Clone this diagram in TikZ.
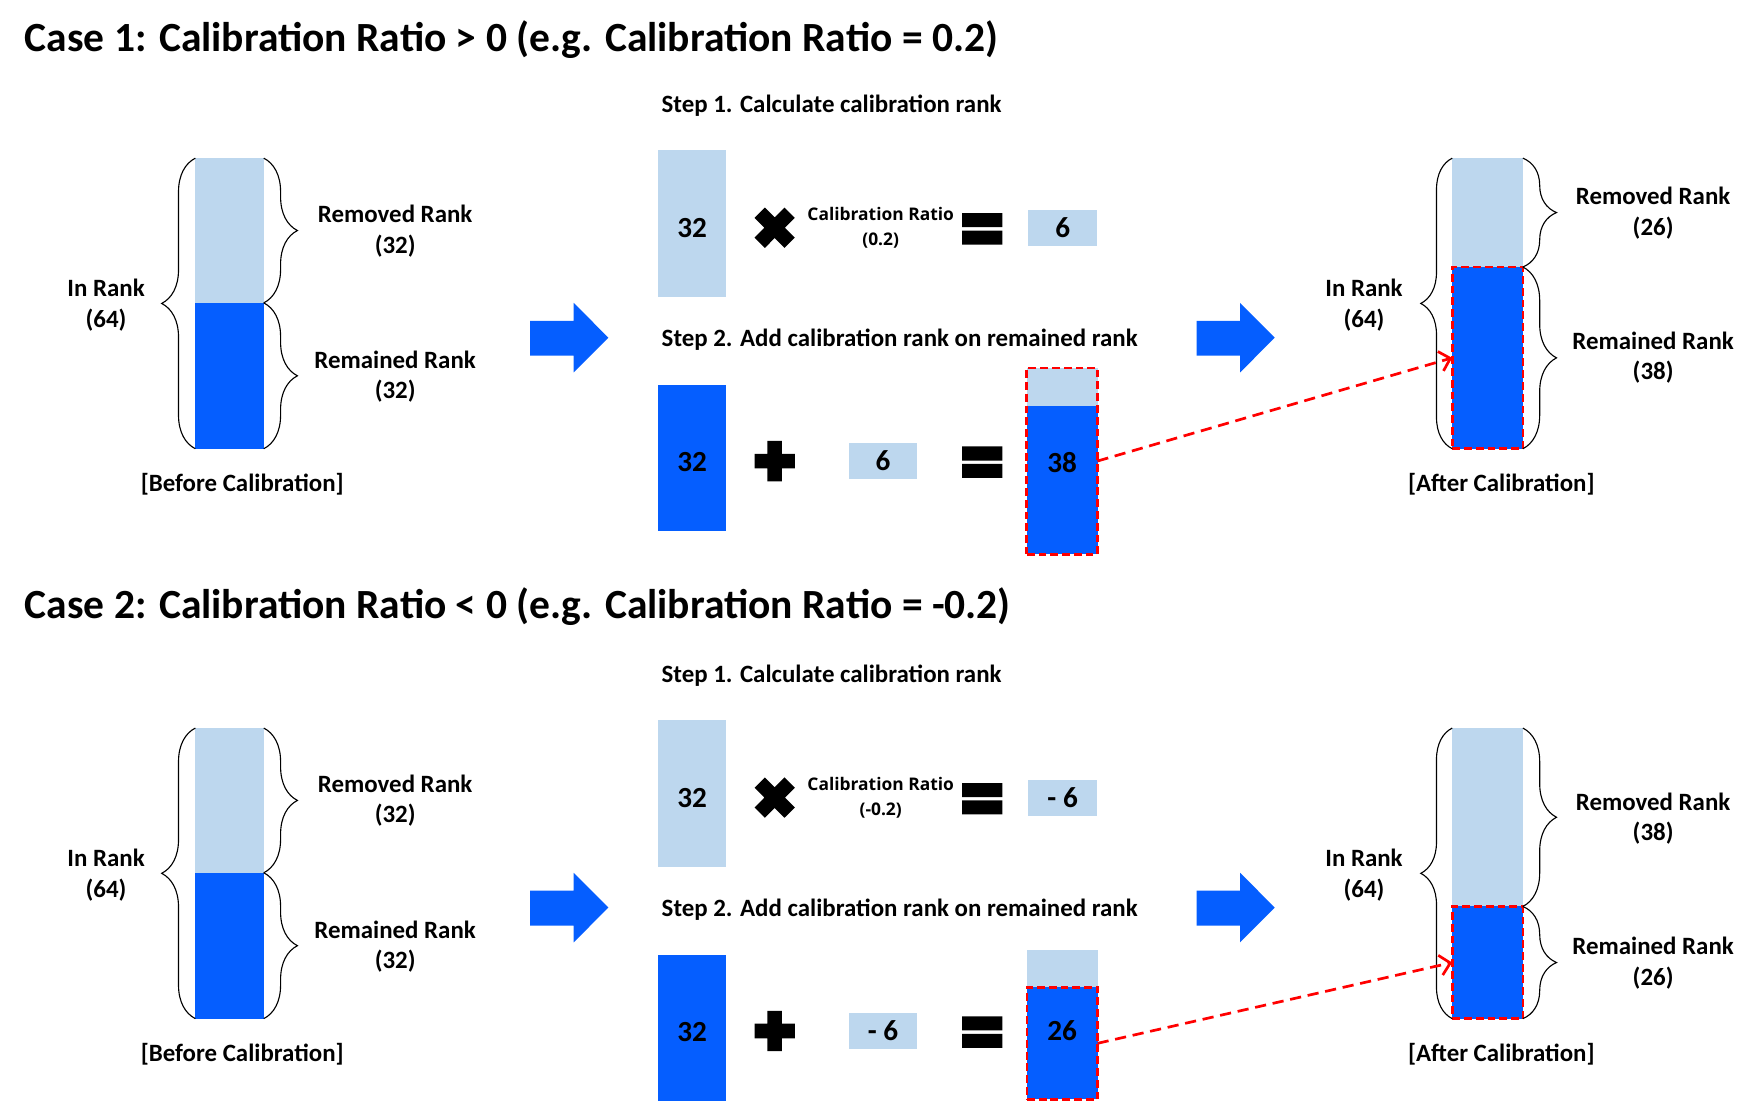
\documentclass[tikz,border=0pt]{standalone}
\usepackage{fontspec}
\setmainfont{Carlito}
\newfontfamily\ratiofont{Open Sans}
\usetikzlibrary{arrows.meta,decorations.pathreplacing}
\definecolor{remblue}{HTML}{BDD7EE}
\definecolor{keepblue}{HTML}{055EFF}
\definecolor{dashred}{HTML}{FF0000}
\tikzset{
  numtxt/.style={font=\bfseries\fontsize{26}{26}\selectfont, inner sep=0pt},
  rankbox/.style={numtxt, outer sep=0pt, minimum width=61pt},
  removed/.style={rankbox, fill=remblue},
  remained/.style={rankbox, fill=keepblue},
  lowtxt/.style={text height=25pt},
  calbox/.style={draw=dashred, line width=2.4pt, dash pattern=on 7pt off 3.5pt, inner sep=0pt, outer sep=0pt, minimum width=63pt},
  lbl/.style={font=\bfseries\fontsize{22.2}{27}\selectfont, align=center, inner sep=0pt},
  steptext/.style={font=\bfseries\fontsize{22.2}{26}\selectfont, inner sep=0pt},
  casetitle/.style={font=\bfseries\fontsize{37}{44}\selectfont, anchor=west, inner sep=0pt},
  ratiotext/.style={font=\ratiofont\bfseries\fontsize{15.5}{22}\selectfont, align=center, inner sep=0pt},
  rankbrace/.style={decorate, decoration={brace, amplitude=30pt}, line width=1pt},
  calarrow/.style={draw=dashred, line width=2.4pt, dash pattern=on 10pt off 6pt, -{Straight Barb[length=9pt,width=18pt]}},
}
\begin{document}
\begin{tikzpicture}[x=0.995pt,y=-1pt]
  \useasboundingbox (0,0) rectangle (1567.8,981);
  %%% case 1
  \node[casetitle] (t1) at (22,35) {Case 1: Calibration Ratio > 0 (e.g. Calibration Ratio = 0.2)};
  % before calibration
  \node[removed, minimum height=129pt, anchor=north west] (a1rem) at (175,141) {};
  \node[remained, minimum height=130pt, anchor=north] (a1keep) at (a1rem.south) {};
  \draw[rankbrace] (a1keep.south west) -- (a1rem.north west);
  \draw[rankbrace] (a1rem.north east) -- (a1rem.south east);
  \draw[rankbrace] (a1keep.north east) -- (a1keep.south east);
  \node[lbl] (a1in) at (95,272) {In Rank\\(64)};
  \node[lbl] (a1rl) at (354,206) {Removed Rank\\(32)};
  \node[lbl] (a1kl) at (354,336) {Remained Rank\\(32)};
  \node[lbl] (a1cap) at (217,432) {[Before Calibration]};
  \fill[keepblue] (475,286) -- (514,286) -- (514,270) -- (545,301) -- (514,332) -- (514,317) -- (475,317) -- cycle;
  % step 1
  \node[steptext] (s1) at (745,94) {Step 1. Calculate calibration rank};
  \node[removed, lowtxt, minimum height=131pt] (c1a) at (620,199) {32};
  \draw[line width=13pt] (680.6,189.6) -- (707.4,216.4) (680.6,216.4) -- (707.4,189.6);
  \node[ratiotext] (c1r) at (789,203) {Calibration Ratio\\(0.2)};
  \fill (862,190) rectangle (898,202.5) (862,205.5) rectangle (898,218);
  \node[removed, minimum height=32pt] (c1b) at (952,203) {6};
  % step 2
  \node[steptext] (s2) at (806,303) {Step 2. Add calibration rank on remained rank};
  \node[remained, lowtxt, minimum height=130pt] (d1a) at (620,408) {32};
  \fill (676,404.5) rectangle (712,417.5) (687.5,393) rectangle (700.5,429);
  \node[removed, minimum height=32pt] (d1b) at (791,411) {6};
  \fill (862,398) rectangle (898,410.5) (862,413.5) rectangle (898,426);
  \node[removed, minimum width=63pt, minimum height=34pt, anchor=north west] (d1top) at (920,328) {};
  \node[remained, minimum width=63pt, minimum height=132pt, anchor=north] (d1keep) at (d1top.south) {};
  \node[calbox, minimum height=166pt] (d1res) at (951.5,411) {};
  \node[numtxt] (d1num) at (951.5,412) {38};
  \fill[keepblue] (1072,286) -- (1111,286) -- (1111,270) -- (1142,301) -- (1111,332) -- (1111,317) -- (1072,317) -- cycle;
  % after calibration
  \node[removed, minimum width=63pt, minimum height=97pt, anchor=north west] (e1rem) at (1301,141) {};
  \node[remained, calbox, minimum height=162pt, anchor=north] (e1keep) at (e1rem.south) {};
  \draw[rankbrace, decoration={amplitude=28pt}] (e1keep.south west) -- (e1rem.north west);
  \draw[rankbrace] (e1rem.north east) -- (e1rem.south east);
  \draw[rankbrace] (e1keep.north east) -- (e1keep.south east);
  \node[lbl] (e1in) at (1222,272) {In Rank\\(64)};
  \node[lbl] (e1rl) at (1481,190) {Removed Rank\\(26)};
  \node[lbl] (e1kl) at (1481,319) {Remained Rank\\(38)};
  \node[lbl] (e1cap) at (1345,432) {[After Calibration]};
  \draw[calarrow] (d1res.east) -- (e1keep.west);

  %%% case 2
  \node[casetitle] (t2) at (22,541) {Case 2: Calibration Ratio < 0 (e.g. Calibration Ratio = -0.2)};
  % before calibration
  \node[removed, minimum height=129pt, anchor=north west] (a2rem) at (175,649) {};
  \node[remained, minimum height=130pt, anchor=north] (a2keep) at (a2rem.south) {};
  \draw[rankbrace] (a2keep.south west) -- (a2rem.north west);
  \draw[rankbrace] (a2rem.north east) -- (a2rem.south east);
  \draw[rankbrace] (a2keep.north east) -- (a2keep.south east);
  \node[lbl] (a2in) at (95,780) {In Rank\\(64)};
  \node[lbl] (a2rl) at (354,714) {Removed Rank\\(32)};
  \node[lbl] (a2kl) at (354,844) {Remained Rank\\(32)};
  \node[lbl] (a2cap) at (217,940) {[Before Calibration]};
  \fill[keepblue] (475,794) -- (514,794) -- (514,778) -- (545,809) -- (514,840) -- (514,825) -- (475,825) -- cycle;
  % step 1
  \node[steptext] (s3) at (745,602) {Step 1. Calculate calibration rank};
  \node[removed, lowtxt, minimum height=131pt] (c2a) at (620,707) {32};
  \draw[line width=13pt] (680.6,697.6) -- (707.4,724.4) (680.6,724.4) -- (707.4,697.6);
  \node[ratiotext] (c2r) at (789,711) {Calibration Ratio\\(-0.2)};
  \fill (862,698) rectangle (898,710.5) (862,713.5) rectangle (898,726);
  \node[removed, minimum height=32pt] (c2b) at (952,711) {- 6};
  % step 2
  \node[steptext] (s4) at (806,811) {Step 2. Add calibration rank on remained rank};
  \node[remained, lowtxt, minimum height=130pt] (d2a) at (620,916) {32};
  \fill (676,912.5) rectangle (712,925.5) (687.5,901) rectangle (700.5,937);
  \node[removed, minimum height=32pt] (d2b) at (791,919) {- 6};
  \fill (862,906) rectangle (898,918.5) (862,921.5) rectangle (898,934);
  \node[removed, minimum width=63pt, minimum height=33pt, anchor=north west] (d2top) at (920,847) {};
  \node[remained, calbox, minimum height=100pt, anchor=north] (d2res) at (d2top.south) {};
  \node[numtxt] (d2num) at (951.5,919) {26};
  \fill[keepblue] (1072,794) -- (1111,794) -- (1111,778) -- (1142,809) -- (1111,840) -- (1111,825) -- (1072,825) -- cycle;
  % after calibration
  \node[removed, minimum width=63pt, minimum height=159pt, anchor=north west] (e2rem) at (1301,649) {};
  \node[remained, calbox, minimum height=100pt, anchor=north] (e2keep) at (e2rem.south) {};
  \draw[rankbrace, decoration={amplitude=28pt}] (e2keep.south west) -- (e2rem.north west);
  \draw[rankbrace] (e2rem.north east) -- (e2rem.south east);
  \draw[rankbrace] (e2keep.north east) -- (e2keep.south east);
  \node[lbl] (e2in) at (1222,780) {In Rank\\(64)};
  \node[lbl] (e2rl) at (1481,729.5) {Removed Rank\\(38)};
  \node[lbl] (e2kl) at (1481,858.5) {Remained Rank\\(26)};
  \node[lbl] (e2cap) at (1345,940) {[After Calibration]};
  \draw[calarrow] (d2res.east) -- (e2keep.west);
\end{tikzpicture}
\end{document}
